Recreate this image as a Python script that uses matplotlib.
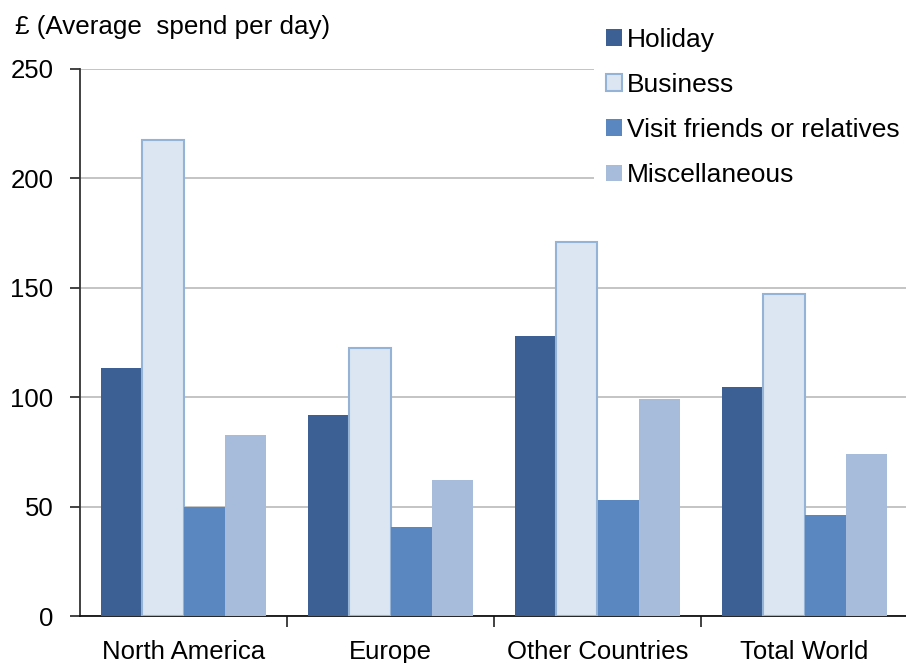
import matplotlib
matplotlib.use("Agg")
import matplotlib.pyplot as plt
import numpy as np

categories = ["North America", "Europe", "Other Countries", "Total World"]
series_names = ["Holiday", "Business", "Visit friends or relatives", "Miscellaneous"]
holiday = [113.5, 92, 128, 104.5]
business = [217.5, 122.5, 171, 147]
visit = [50, 40.5, 53, 46]
misc = [82.5, 62, 99, 74]
yticks = [0, 50, 100, 150, 200, 250]

colors = ["#3C6093", "#DCE6F2", "#5A87C0", "#A6BCDA"]
edges = ["#3C6093", "#95B3D7", "#5A87C0", "#A6BCDA"]

plt.rcParams['font.family'] = ['Liberation Sans', 'DejaVu Sans']

fig = plt.figure(figsize=(9.06, 6.63), dpi=100)
ax = fig.add_axes([80/906, 47/663, 828/906, (616-69)/663])

x = np.arange(len(categories))
w = 0.2
data = [holiday, business, visit, misc]
for i, (vals, name) in enumerate(zip(data, series_names)):
    lw = 1.5 if i == 1 else 0
    ax.bar(x + (i - 1.5) * w, vals, width=w, color=colors[i], edgecolor=edges[i],
           linewidth=lw, label=name, zorder=3)

ax.set_xlim(-0.5, 3.5)
ax.set_ylim(0, 250)
ax.set_yticks(yticks)
ax.yaxis.grid(True, color="#BFBFBF", linewidth=1.3, zorder=0)
ax.set_axisbelow(True)

ax.set_xticks(x)
ax.set_xticklabels(categories)
ax.set_xticks(np.arange(0.5, 3.5, 1.0), minor=True)
ax.tick_params(axis='x', which='major', length=0, pad=17, labelsize=18.5)
ax.tick_params(axis='x', which='minor', length=8, width=1.2, color="#222222", direction='out')
ax.tick_params(axis='y', length=7, width=1.2, color="#222222", pad=12, labelsize=18.5)

for s in ["top", "right"]:
    ax.spines[s].set_visible(False)
ax.spines["left"].set_color("#333333")
ax.spines["left"].set_linewidth(1.3)
ax.spines["bottom"].set_color("#111111")
ax.spines["bottom"].set_linewidth(1.3)

fig.text(15/906, 1 - 27/663, "£ (Average  spend per day)", fontsize=18.7, va='center', ha='left')

leg = fig.legend(loc='upper left', bbox_to_anchor=(594/906, 1 - 16/663), fontsize=19,
                 frameon=True, fancybox=False, edgecolor='none', facecolor='white', framealpha=1,
                 handlelength=0.6, handleheight=0.6, handletextpad=0.2, labelspacing=0.8,
                 borderpad=0.45, borderaxespad=0)

fig.savefig("out.png", dpi=100)
